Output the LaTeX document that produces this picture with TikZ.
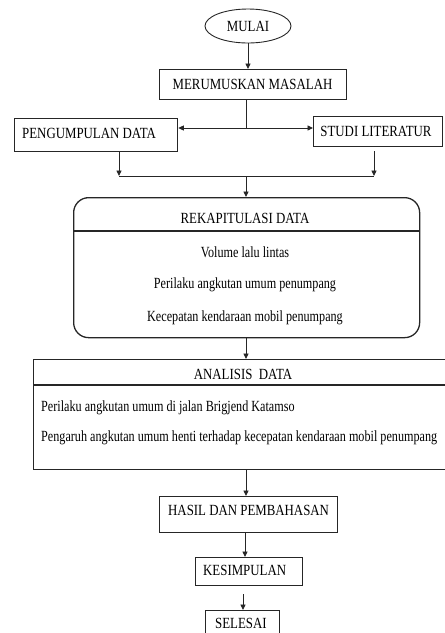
\documentclass[tikz,border=0pt]{standalone}
\usepackage{fontspec}
\setmainfont{Liberation Serif}[FakeStretch=0.83]
\newfontfamily\bodyfont{Liberation Serif}[FakeStretch=0.785]
\usetikzlibrary{shapes.geometric,arrows.meta}
\begin{document}
\begin{tikzpicture}[x=1pt,y=-1pt,
  box/.style={draw=black!85,line width=1.3pt,rectangle,inner sep=0pt,anchor=north west},
  txt/.style={inner sep=0pt,font=\fontsize{15.5}{18}\selectfont},
  btxt/.style={inner sep=0pt,font=\bodyfont\fontsize{15.5}{18}\selectfont},
  arr/.style={draw=black!85,line width=0.9pt,-{Triangle[length=5.5pt,width=5pt]}},
  ln/.style={draw=black!85,line width=0.9pt}]
\useasboundingbox (0,0) rectangle (445,633);
\clip (0,0) rectangle (445,633);
% start
\node[draw=black!85,line width=0.9pt,ellipse,minimum width=86pt,minimum height=34pt,inner sep=0pt,font=\fontsize{15.5}{18}\selectfont] (mulai) at (248,26) {MULAI};
% merumuskan
\node[box,minimum width=187pt,minimum height=30pt] (rum) at (159,69) {};
\node[txt,anchor=base] (trum) at (252.5,89) {MERUMUSKAN MASALAH};
% pengumpulan / studi
\node[box,minimum width=163pt,minimum height=33pt] (peng) at (14,118) {};
\node[txt,anchor=base west] (tpeng) at (22,138) {PENGUMPULAN DATA};
\node[box,minimum width=129pt,minimum height=30pt] (stud) at (313,116) {};
\node[txt,anchor=base] (tstud) at (376,136) {STUDI LITERATUR};
\coordinate (split) at (246,128);
\coordinate (pengout) at (119,152);
\coordinate (studout) at (374,151);
\coordinate (jl) at (119,176);
\coordinate (jr) at (374,176);
\coordinate (jm) at (246,176);
% rekap
\node[box,rounded corners=15pt,minimum width=346pt,minimum height=140pt] (rek) at (73,197) {};
\draw[draw=black!85,line width=1.1pt] (73,231) -- (419,231);
\node[txt,anchor=base] (trek) at (245,223) {REKAPITULASI DATA};
\node[btxt,anchor=base] (r1) at (245,257) {Volume lalu lintas};
\node[btxt,anchor=base] (r2) at (245,288) {Perilaku angkutan umum penumpang};
\node[btxt,anchor=base] (r3) at (245,321) {Kecepatan\ kendaraan mobil penumpang};
% analisis
\node[box,minimum width=420pt,minimum height=110pt] (ana) at (33,359) {};
\draw[draw=black!85,line width=1.1pt] (33,385) -- (453,385);
\node[txt,anchor=base] (tana) at (243,379) {ANALISIS\ \ DATA};
\node[btxt,anchor=base west] (a1) at (41,411) {Perilaku angkutan umum di jalan Brigjend Katamso};
\node[btxt,anchor=base west] (a2) at (41,441) {Pengaruh angkutan umum henti terhadap kecepatan\ kendaraan mobil penumpang};
% hasil
\node[box,minimum width=178pt,minimum height=36pt] (has) at (159,496) {};
\node[txt,anchor=base west] (thas) at (168,515) {HASIL DAN PEMBAHASAN};
% kesimpulan
\node[box,minimum width=107pt,minimum height=28pt] (kes) at (195,557) {};
\node[txt,anchor=base west] (tkes) at (203,575) {KESIMPULAN};
\coordinate (kesout) at (243,594);
% selesai
\node[box,minimum width=74pt,minimum height=40pt] (sel) at (205,610) {};
\node[txt,anchor=base west] (tsel) at (215,628) {SELESAI};
% connectors
\draw[arr] (mulai.south) -- (mulai.south |- rum.north);
\draw[ln] (rum.south -| split) -- (split);
\draw[arr] (split) -- (split -| peng.east);
\draw[arr] (split) -- (split -| stud.west);
\draw[arr] (pengout) -- (jl);
\draw[arr] (studout) -- (jr);
\draw[ln] (jl) -- (jr);
\draw[arr] (jm) -- (jm |- rek.north);
\draw[arr] (rek.south -| jm) -- (ana.north -| jm);
\draw[arr] (ana.south -| jm) -- (has.north -| jm);
\draw[arr] (has.south -| 245,0) -- (kes.north -| 245,0);
\draw[arr] (kesout) -- (kesout |- sel.north);
\end{tikzpicture}
\end{document}
